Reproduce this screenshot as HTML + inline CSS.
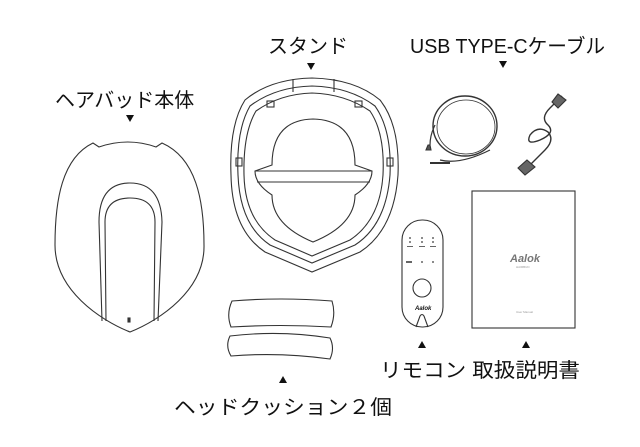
<!DOCTYPE html>
<html><head><meta charset="utf-8"><style>
html,body{margin:0;padding:0;background:#fff;}
svg{display:block}
text{font-family:"Liberation Sans","Noto Sans CJK JP",sans-serif;fill:#111}
</style></head><body>
<svg width="640" height="447" viewBox="0 0 640 447" xmlns="http://www.w3.org/2000/svg">
<g fill="none" stroke="#333" stroke-width="1.1">
<!-- headpad body -->
<path d="M93,143 C62,158 55,200 55,245 C55,290 100,320 130,332 C160,320 205,290 204,245 C204,200 196,158 162,143 L156,147 Q128,137 99,147 Z"/>
<path d="M102,321 L99,222 Q99,183 130,183 Q161,183 162,222 L158,321"/>
<path d="M106,321 L105,222 Q105,198 130,198 Q155,198 155,222 L154,321"/>
<rect x="128" y="318" width="2" height="4" fill="#333"/>
<!-- stand -->
<path d="M245,100 Q270,79 312,78 Q355,79 380,100 Q400,125 398,175 Q394,230 360,252 L312,272 L265,252 Q232,230 231,175 Q229,125 245,100 Z"/>
<path d="M250,106 Q275,87 312,86 Q350,87 375,106 Q392,130 390,175 Q386,225 355,245 L312,263 L270,245 Q240,225 238,175 Q236,130 250,106 Z"/>
<path d="M256,111 Q280,94 312,93 Q345,94 370,111 Q385,133 383,175 Q380,220 350,240 L312,256 L275,240 Q245,220 244,175 Q243,133 256,111 Z"/>
<path d="M293,79 L293,92 M334,79 L334,92"/>
<rect x="267" y="101" width="7" height="6"/><rect x="355" y="101" width="7" height="6"/>
<rect x="236" y="158" width="6" height="8"/><rect x="387" y="158" width="6" height="8"/>
<path d="M272,165 Q272,120 313,119 Q355,120 355,165 L372,171 Q372,184 355,195 Q355,225 313,242 Q272,225 272,195 Q255,184 255,171 Z"/>
<path d="M255,171 L372,171 M257,182 L370,182"/>
<!-- pads -->
<path d="M232,301 Q280,297 332,301 Q336,314 331,327 Q280,324 231,327 Q226,314 232,301 Z"/>
<path d="M230,336 Q280,330 330,338 Q335,348 330,359 Q280,352 231,356 Q225,346 230,336 Z"/>
<!-- cable 1 -->
<ellipse cx="465" cy="126" rx="32" ry="30" stroke-width="1.4"/>
<ellipse cx="466" cy="127" rx="29" ry="27" stroke-width="0.8"/>
<path d="M435,125 Q430,135 430,145 M440,160 Q460,165 490,150" stroke-width="1.2"/>
<path d="M430,145 L428,145 L426,150 L431,150 Z" fill="#555"/>
<path d="M430,163 L450,163" stroke-width="2"/>
<!-- cable 2 -->
<path d="M562,96 L550,108 Q540,118 548,125 Q556,133 540,140 Q525,146 530,135 Q538,125 548,132 Q555,140 545,150 L530,165" stroke-width="1.4"/>
<path d="M558,94 L566,100 L558,108 L552,102 Z" fill="#666"/>
<path d="M527,160 L535,167 L525,175 L518,168 Z" fill="#666"/>
<!-- remote -->
<rect x="402" y="220" width="41" height="107" rx="20"/>
<circle cx="422" cy="288" r="9"/>
<path d="M416,327 L420,316 Q422,313 424,316 L428,327"/>
<!-- manual -->
<rect x="472" y="191" width="103" height="137"/>
</g>
<g fill="#666">
<circle cx="410" cy="238" r="1"/><circle cx="422" cy="238" r="1"/><circle cx="433" cy="238" r="1"/>
<circle cx="410" cy="242" r="1"/><circle cx="422" cy="242" r="1"/><circle cx="433" cy="242" r="1"/>
<rect x="407" y="246" width="6" height="1"/><rect x="419" y="246" width="6" height="1"/><rect x="430" y="246" width="6" height="1"/>
<rect x="406" y="261" width="6" height="2"/><circle cx="422" cy="262" r="1"/><circle cx="433" cy="262" r="1"/>
</g>
<text x="415" y="310" font-size="6" font-style="italic" font-weight="bold" fill="#555">Aalok</text>
<text x="510" y="262" font-size="11" font-style="italic" font-weight="bold" style="fill:#777">Aalok</text>
<text x="516" y="268" font-size="3" style="fill:#999">HAIRBUD</text>
<text x="516" y="313" font-size="3" style="fill:#999">User Manual</text>
<!-- labels -->
<text x="55" y="107" font-size="20">ヘアバッド本体</text>
<text x="268" y="53" font-size="20">スタンド</text>
<text x="410" y="53" font-size="20" textLength="195" lengthAdjust="spacingAndGlyphs">USB TYPE-Cケーブル</text>
<text x="380" y="377" font-size="20" textLength="200" lengthAdjust="spacingAndGlyphs">リモコン 取扱説明書</text>
<text x="174" y="414" font-size="20" textLength="218" lengthAdjust="spacingAndGlyphs">ヘッドクッション２個</text>
<g fill="#111">
<path d="M126,115 L134,115 L130,122 Z"/>
<path d="M307,63 L315,63 L311,70 Z"/>
<path d="M499,61 L507,61 L503,68 Z"/>
<path d="M418,348 L426,348 L422,341 Z"/>
<path d="M522,348 L530,348 L526,341 Z"/>
<path d="M279,383 L287,383 L283,376 Z"/>
</g>
</svg>
</body></html>
